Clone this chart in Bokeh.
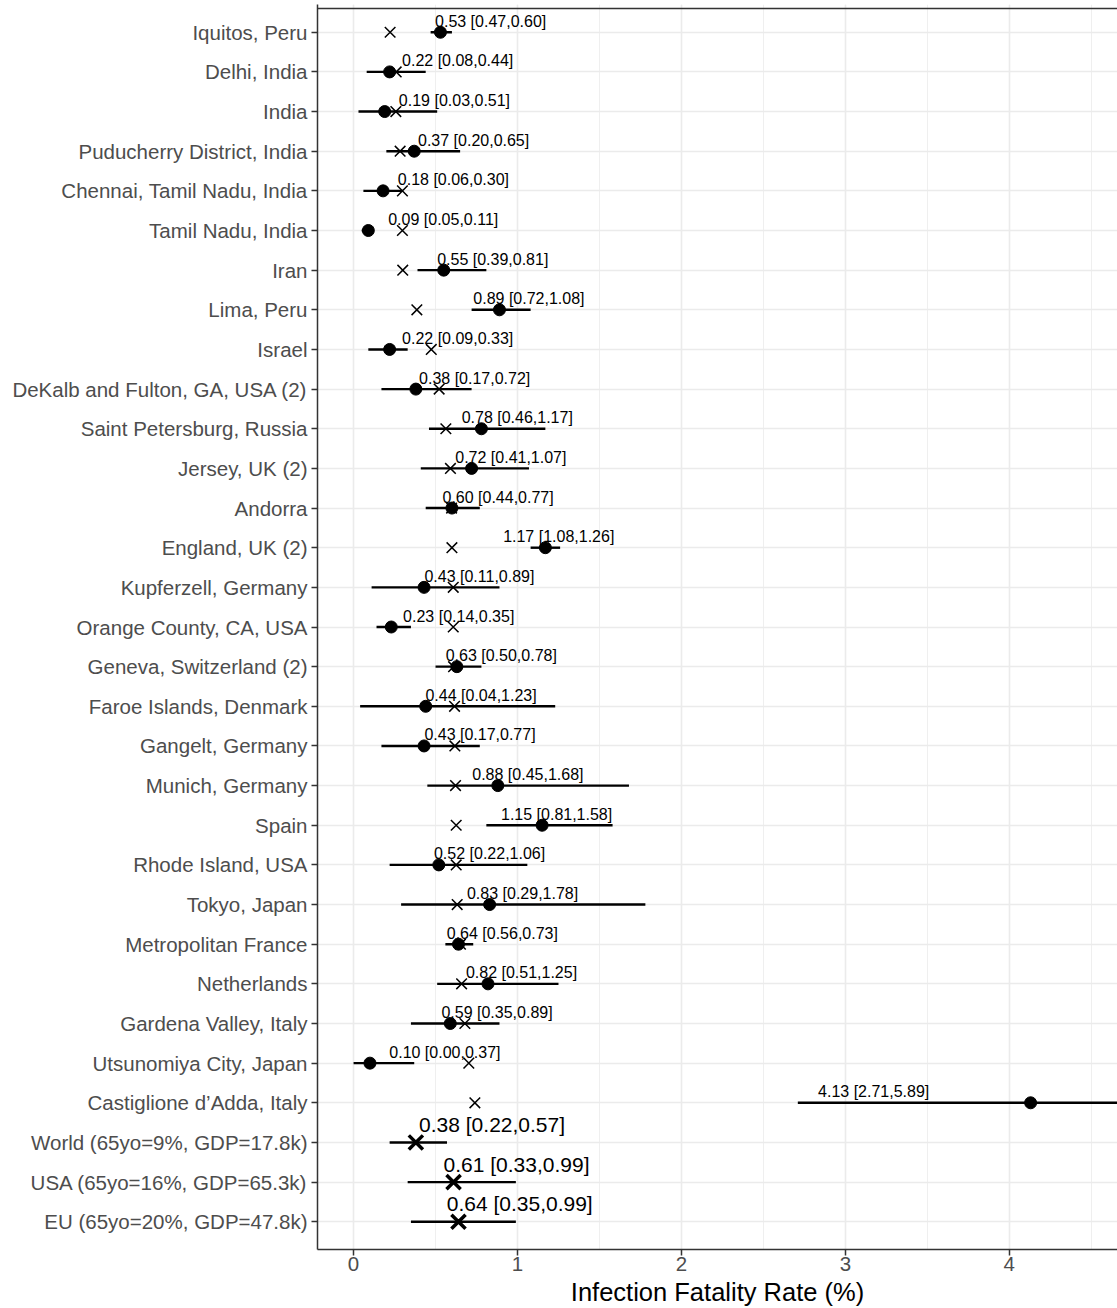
from bokeh.plotting import figure
from bokeh.models import FactorRange, Range1d, SingleIntervalTicker, Span, ColumnDataSource
from bokeh.core.properties import value
from bokeh.embed import file_html
from bokeh.resources import INLINE

# ---------------- data ----------------
studies = [
    "Iquitos, Peru", "Delhi, India", "India", "Puducherry District, India",
    "Chennai, Tamil Nadu, India", "Tamil Nadu, India", "Iran", "Lima, Peru",
    "Israel", "DeKalb and Fulton, GA, USA (2)", "Saint Petersburg, Russia",
    "Jersey, UK (2)", "Andorra", "England, UK (2)", "Kupferzell, Germany",
    "Orange County, CA, USA", "Geneva, Switzerland (2)", "Faroe Islands, Denmark",
    "Gangelt, Germany", "Munich, Germany", "Spain", "Rhode Island, USA",
    "Tokyo, Japan", "Metropolitan France", "Netherlands", "Gardena Valley, Italy",
    "Utsunomiya City, Japan", "Castiglione d\u2019Adda, Italy",
]
ifr_est = [0.53, 0.22, 0.19, 0.37, 0.18, 0.09, 0.55, 0.89, 0.22, 0.38, 0.78, 0.72,
           0.60, 1.17, 0.43, 0.23, 0.63, 0.44, 0.43, 0.88, 1.15, 0.52, 0.83, 0.64,
           0.82, 0.59, 0.10, 4.13]
ifr_lo = [0.47, 0.08, 0.03, 0.20, 0.06, 0.05, 0.39, 0.72, 0.09, 0.17, 0.46, 0.41,
          0.44, 1.08, 0.11, 0.14, 0.50, 0.04, 0.17, 0.45, 0.81, 0.22, 0.29, 0.56,
          0.51, 0.35, 0.00, 2.71]
ifr_hi = [0.60, 0.44, 0.51, 0.65, 0.30, 0.11, 0.81, 1.08, 0.33, 0.72, 1.17, 1.07,
          0.77, 1.26, 0.89, 0.35, 0.78, 1.23, 0.77, 1.68, 1.58, 1.06, 1.78, 0.73,
          1.25, 0.89, 0.37, 5.89]
ifr_pred = [0.223, 0.26, 0.258, 0.284, 0.298, 0.298, 0.30, 0.386, 0.474, 0.522,
            0.563, 0.591, 0.598, 0.60, 0.608, 0.608, 0.61, 0.616, 0.618, 0.622,
            0.626, 0.626, 0.632, 0.652, 0.659, 0.679, 0.703, 0.74]

regions = ["World (65yo=9%, GDP=17.8k)", "USA (65yo=16%, GDP=65.3k)",
           "EU (65yo=20%, GDP=47.8k)"]
reg_est = [0.38, 0.61, 0.64]
reg_lo = [0.22, 0.33, 0.35]
reg_hi = [0.57, 0.99, 0.99]

x_label = "Infection Fatality Rate (%)"
x_ticks_interval = 1

# ---------------- layout helpers ----------------
LABEL_X0, LABEL_SLOPE = 0.153, 0.649   # where the annotation text starts, relative to the estimate
FONT = "Liberation Sans"

def fmt(e, l, h):
    return f"{e:.2f} [{l:.2f},{h:.2f}]"

all_names = studies + regions
y_range = FactorRange(factors=list(reversed(all_names)), range_padding=0.2,
                      range_padding_units="absolute")

p = figure(width=1117, height=1308, x_range=Range1d(-0.22, 4.66), y_range=y_range,
           title=None, output_backend="svg", toolbar_location=None,
           min_border_left=317, min_border_right=0, min_border_top=4, min_border_bottom=0)
p.outline_line_color = None
p.background_fill_color = "white"
p.border_fill_color = "white"

src = ColumnDataSource(dict(
    name=studies, est=ifr_est, lo=ifr_lo, hi=ifr_hi, pred=ifr_pred,
    lab=[fmt(e, l, h) for e, l, h in zip(ifr_est, ifr_lo, ifr_hi)],
    labx=[LABEL_X0 + LABEL_SLOPE * e for e in ifr_est],
))
rsrc = ColumnDataSource(dict(
    name=regions, est=reg_est, lo=reg_lo, hi=reg_hi,
    lab=[fmt(e, l, h) for e, l, h in zip(reg_est, reg_lo, reg_hi)],
    labx=[LABEL_X0 + LABEL_SLOPE * e for e in reg_est],
))

# studies
p.segment(x0="lo", x1="hi", y0="name", y1="name", source=src, line_color="black", line_width=2.4)
p.scatter(x="est", y="name", source=src, marker="circle", size=12, fill_color="black", line_color="black")
p.scatter(x="pred", y="name", source=src, marker="x", size=15, line_color="black", line_width=1.5)
p.text(x="labx", y="name", text="lab", source=src, text_align="left", text_baseline="alphabetic",
       y_offset=-11, text_font=value(FONT), text_font_size="16px", text_color="black")

# regions
p.segment(x0="lo", x1="hi", y0="name", y1="name", source=rsrc, line_color="black", line_width=2.4)
p.scatter(x="est", y="name", source=rsrc, marker="x", size=20, line_color="black", line_width=3.5)
p.text(x="labx", y="name", text="lab", source=rsrc, text_align="left", text_baseline="alphabetic",
       y_offset=-18, text_font=value(FONT), text_font_size="21px", text_color="black")

# top border of panel
p.add_layout(Span(location=len(all_names) + 0.1, dimension="width", line_color="#333333", line_width=1.5))

# axes
tick = SingleIntervalTicker(interval=x_ticks_interval, num_minor_ticks=2)
p.xaxis.ticker = tick
p.xaxis.axis_label = x_label
p.xaxis.axis_label_text_font = FONT
p.xaxis.axis_label_text_font_size = "25.5px"
p.xaxis.axis_label_text_font_style = "normal"
p.xaxis.axis_label_text_color = "black"
p.xaxis.axis_label_standoff = 4
for ax in (p.xaxis, p.yaxis):
    ax.axis_line_color = "#333333"
    ax.axis_line_width = 1.5
    ax.major_tick_line_color = "#333333"
    ax.major_tick_line_width = 1.5
    ax.major_tick_out = 6
    ax.major_tick_in = 0
    ax.minor_tick_out = 0
    ax.minor_tick_in = 0
    ax.major_label_text_font = FONT
    ax.major_label_text_font_size = "20.5px"
    ax.major_label_text_color = "#4D4D4D"
p.xaxis.major_label_standoff = 1
p.yaxis.major_label_standoff = 4

p.xgrid.grid_line_color = "#EBEBEB"
p.xgrid.grid_line_width = 1.6
p.xgrid.minor_grid_line_color = "#EBEBEB"
p.xgrid.minor_grid_line_width = 0.8
p.ygrid.grid_line_color = "#EBEBEB"
p.ygrid.grid_line_width = 1.6

open("out.html", "w").write(file_html(p, INLINE))
